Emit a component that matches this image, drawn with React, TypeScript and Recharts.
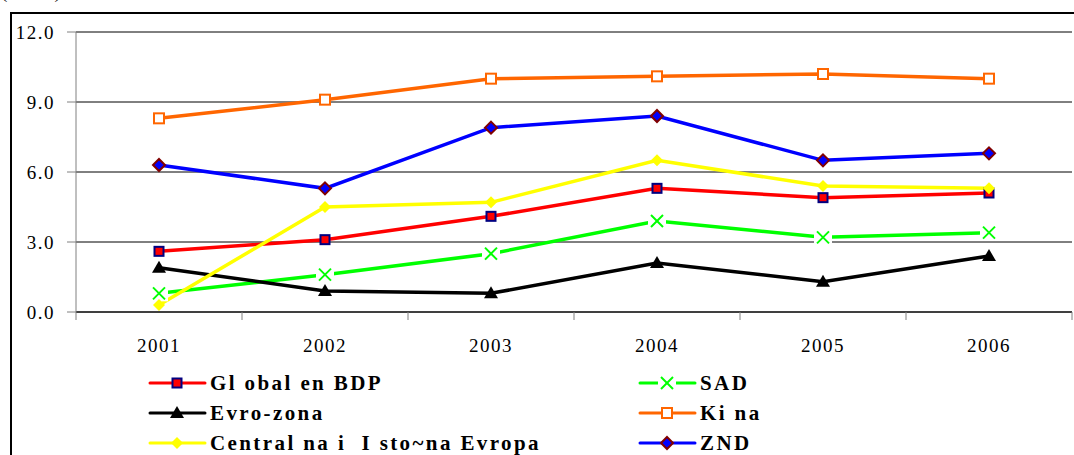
import { LineChart, Line, XAxis, YAxis, CartesianGrid, Legend } from 'recharts';

const years = ['2001', '2002', '2003', '2004', '2005', '2006'];
const globalBdp = [2.6, 3.1, 4.1, 5.3, 4.9, 5.1];
const sad = [0.8, 1.6, 2.5, 3.9, 3.2, 3.4];
const evroZona = [1.9, 0.9, 0.8, 2.1, 1.3, 2.4];
const kina = [8.3, 9.1, 10.0, 10.1, 10.2, 10.0];
const centralna = [0.3, 4.5, 4.7, 6.5, 5.4, 5.3];
const znd = [6.3, 5.3, 7.9, 8.4, 6.5, 6.8];
const yTicks = [0, 3, 6, 9, 12];

type MarkerKind = 'square' | 'cross' | 'triangle' | 'hollow' | 'diamondY' | 'diamondB';

const series: { key: string; name: string; color: string; marker: MarkerKind }[] = [
  { key: 'globalBdp', name: 'Gl obal en BDP', color: '#FF0000', marker: 'square' },
  { key: 'sad', name: 'SAD', color: '#00FF00', marker: 'cross' },
  { key: 'evroZona', name: 'Evro-zona', color: '#000000', marker: 'triangle' },
  { key: 'kina', name: 'Ki na', color: '#FF6600', marker: 'hollow' },
  { key: 'centralna', name: 'Central na i  I sto~na Evropa', color: '#FFFF00', marker: 'diamondY' },
  { key: 'znd', name: 'ZND', color: '#0000FF', marker: 'diamondB' },
];

const data = years.map((year, i) => ({
  year,
  globalBdp: globalBdp[i],
  sad: sad[i],
  evroZona: evroZona[i],
  kina: kina[i],
  centralna: centralna[i],
  znd: znd[i],
}));

const serif = '"Liberation Serif", "Times New Roman", serif';

function Marker({ kind, cx, cy }: { kind: MarkerKind; cx: number; cy: number }) {
  switch (kind) {
    case 'square':
      return <rect x={cx - 4.5} y={cy - 4.5} width={9} height={9} fill="#FF0000" stroke="#000080" strokeWidth={2} />;
    case 'cross':
      return (
        <g>
          <rect x={cx - 9} y={cy - 8} width={18} height={16} fill="#fff" />
          <line x1={cx - 6} y1={cy - 6} x2={cx + 6} y2={cy + 6} stroke="#00FF00" strokeWidth={2} />
          <line x1={cx - 6} y1={cy + 6} x2={cx + 6} y2={cy - 6} stroke="#00FF00" strokeWidth={2} />
        </g>
      );
    case 'triangle':
      return <polygon points={`${cx},${cy - 7} ${cx - 7},${cy + 5} ${cx + 7},${cy + 5}`} fill="#000" />;
    case 'hollow':
      return <rect x={cx - 5} y={cy - 5} width={10} height={10} fill="#fff" stroke="#FF6600" strokeWidth={2} />;
    case 'diamondY':
      return <polygon points={`${cx},${cy - 6} ${cx + 6},${cy} ${cx},${cy + 6} ${cx - 6},${cy}`} fill="#FFFF00" />;
    case 'diamondB':
      return (
        <polygon
          points={`${cx},${cy - 6} ${cx + 6},${cy} ${cx},${cy + 6} ${cx - 6},${cy}`}
          fill="#0000FF"
          stroke="#800000"
          strokeWidth={2}
        />
      );
  }
}

// category label plus the tick marks that sit between the categories
function YearTick(props: any) {
  const { x, y, payload, index, visibleTicksCount } = props;
  const half = payload.offset ?? 0;
  const last = index === visibleTicksCount - 1;
  return (
    <g>
      <line x1={x - half} y1={y} x2={x - half} y2={y + 8} stroke="#808080" />
      {last && <line x1={x + half} y1={y} x2={x + half} y2={y + 8} stroke="#808080" />}
      <text
        x={x}
        y={y + 27}
        dy="0.71em"
        textAnchor="middle"
        fill="#000"
        fontFamily={serif}
        fontSize={19}
        letterSpacing={1.5}
      >
        {payload.value}
      </text>
    </g>
  );
}

function LegendBox() {
  return (
    <div
      style={{
        display: 'grid',
        gridTemplateColumns: '490px 300px',
        gridAutoRows: '30px',
        fontFamily: serif,
        fontWeight: 'bold',
        fontSize: 21,
        letterSpacing: 2.4,
        color: '#000',
      }}
    >
      {series.map((s) => (
        <div key={s.key} style={{ display: 'flex', alignItems: 'center' }}>
          <svg width={62} height={20} style={{ flex: 'none' }}>
            <line x1={2} y1={10} x2={57} y2={10} stroke={s.color} strokeWidth={3} strokeLinecap="round" />
            <Marker kind={s.marker} cx={29} cy={10} />
          </svg>
          <span style={{ whiteSpace: 'pre' }}>{s.name}</span>
        </div>
      ))}
    </div>
  );
}

export default function App() {
  return (
    <div
      style={{
        position: 'fixed',
        left: 0,
        top: 0,
        width: 1074,
        height: 455,
        overflow: 'hidden',
        background: '#fff',
      }}
    >
      <div
        style={{
          position: 'absolute',
          left: 1,
          top: -19,
          fontFamily: serif,
          fontSize: 19,
          letterSpacing: 1.5,
          color: '#000',
        }}
      >
        (vo %)
      </div>
      <div
        style={{
          position: 'absolute',
          left: 10,
          top: 12,
          width: 1200,
          height: 600,
          border: '2px solid #000',
        }}
      />
      <div style={{ position: 'absolute', left: 0, top: 0 }}>
        <LineChart width={1074} height={455} data={data} margin={{ top: 32, right: 2, left: 16, bottom: 103 }}>
          <CartesianGrid vertical={false} stroke="#000" />
          <XAxis
            dataKey="year"
            scale="band"
            height={40}
            tickLine={false}
            tickSize={0}
            tickMargin={0}
            axisLine={{ stroke: '#000' }}
            tick={<YearTick />}
          />
          <YAxis
            width={60}
            domain={[0, 12]}
            ticks={yTicks}
            tickFormatter={(v: number) => v.toFixed(1)}
            tickSize={9}
            tickMargin={12}
            stroke="#808080"
            tick={{ fill: '#000', fontFamily: serif, fontSize: 19, letterSpacing: 1.5 }}
          />
          {series.map((s) => (
            <Line
              key={s.key}
              dataKey={s.key}
              name={s.name}
              stroke={s.color}
              strokeWidth={3.5}
              isAnimationActive={false}
              dot={(p: any) => (
                <g key={`${s.key}-${p.index}`}>
                  <Marker kind={s.marker} cx={p.cx} cy={p.cy} />
                </g>
              )}
              activeDot={false}
            />
          ))}
          <Legend
            layout="horizontal"
            verticalAlign="middle"
            align="center"
            wrapperStyle={{ top: 368, left: 148, width: 900 }}
            content={() => <LegendBox />}
          />
        </LineChart>
      </div>
    </div>
  );
}
